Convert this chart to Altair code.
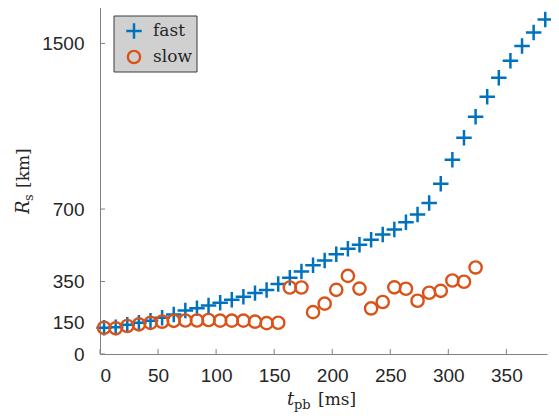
import altair as alt
import pandas as pd

# ---- data ----
t_fast = [3.5, 13.5, 23.5, 33.5, 43.5, 53.5, 63.5, 73.5, 83.5, 93.5,
          103.5, 113.5, 123.5, 133.5, 143.5, 153.5, 163.5, 173.5, 183.5, 193.5,
          203.5, 213.5, 223.5, 233.5, 243.5, 253.5, 263.5, 273.5, 283.5, 293.5,
          303.5, 313.5, 323.5, 333.5, 343.5, 353.5, 363.5, 373.5, 383.5]
r_fast = [127, 129, 141, 151, 161, 175, 191, 210, 221, 234,
          247, 262, 276, 294, 309, 338, 368, 398, 429, 452,
          482, 508, 528, 552, 577, 601, 636, 674, 729, 822,
          938, 1044, 1146, 1242, 1334, 1416, 1487, 1553, 1616]
t_slow = t_fast[:33]
r_slow = [127, 124, 135, 143, 150, 156, 160, 162, 162, 164,
          161, 161, 161, 156, 149, 151, 321, 321, 202, 243,
          310, 377, 316, 220, 251, 322, 315, 257, 296, 305,
          355, 349, 418]
x_ticks = [0, 50, 100, 150, 200, 250, 300, 350]
y_ticks = [0, 150, 350, 700, 1500]
series_names = ["fast", "slow"]
series_colors = ["#0072BD", "#D95319"]

W, H = 447, 352
AX = "#808080"
SERIF = "DejaVu Serif"
SANS = "Liberation Sans"
PLUS = "M-1,0L1,0M0,-1L0,1"

fast = pd.DataFrame({"tpb": t_fast, "Rs": r_fast})
slow = pd.DataFrame({"tpb": t_slow, "Rs": r_slow})
xt = pd.DataFrame({"tpb": x_ticks})
yt = pd.DataFrame({"Rs": y_ticks})
one = pd.DataFrame({"k": [0]})

xs = alt.Scale(domain=[0, 385], nice=False, zero=False)
ys = alt.Scale(domain=[0, 1700], nice=False, zero=False)

xaxis = alt.Axis(values=x_ticks, title=None, ticks=False, grid=False, format="d",
                 domainColor=AX, domainWidth=1, labelFont=SANS,
                 labelFontSize=19, labelColor="#262626", labelPadding=12)
yaxis = alt.Axis(values=y_ticks, title=None, ticks=False, grid=False, format="d",
                 domainColor=AX, domainWidth=1, labelFont=SANS,
                 labelFontSize=19, labelColor="#262626", labelPadding=16)

X = alt.X("tpb:Q", scale=xs, axis=xaxis)
Y = alt.Y("Rs:Q", scale=ys, axis=yaxis)

fast_l = alt.Chart(fast).mark_point(shape=PLUS, filled=False, size=240,
                                    strokeWidth=2.5, color=series_colors[0], opacity=1).encode(x=X, y=Y)
slow_l = alt.Chart(slow).mark_point(shape="circle", filled=False, size=150,
                                    strokeWidth=2.4, color=series_colors[1], opacity=1).encode(x=X, y=Y)

xtick_l = alt.Chart(xt).mark_rule(color=AX, strokeWidth=1).encode(
    x=X, y=alt.value(H), y2=alt.value(H - 5))
ytick_l = alt.Chart(yt).mark_rule(color=AX, strokeWidth=1).encode(
    y=Y, x=alt.value(0), x2=alt.value(5))

def txt(s, x, y, size=19, style="normal", angle=0):
    return alt.Chart(one).mark_text(text=s, font=SERIF, fontSize=size,
                                    fontStyle=style, align="left", baseline="alphabetic",
                                    angle=angle, color="#262626").encode(
        x=alt.value(x), y=alt.value(y))

# x title: t_pb [ms]
xt_t = txt("t", 187, 403, 18, "italic")
xt_pb = txt("pb", 194, 407, 13)
xt_ms = txt("[ms]", 218, 403, 17)
# y title: R_s [km] (rotated)
yt_R = txt("R", -71, 212, 18, "italic", angle=270)
yt_s = txt("s", -67, 199, 13, angle=270)
yt_km = txt("[km]", -71, 186, 17, angle=270)

# legend
leg_box = alt.Chart(one).mark_rect(fill="#d0d0d0", stroke="#3a3a3a", strokeWidth=1).encode(
    x=alt.value(14), x2=alt.value(97), y=alt.value(14), y2=alt.value(70))
leg_p1 = alt.Chart(one).mark_point(shape=PLUS, filled=False, size=240, strokeWidth=2.5,
                                   color=series_colors[0], opacity=1).encode(
    x=alt.value(34), y=alt.value(29))
leg_p2 = alt.Chart(one).mark_point(shape="circle", filled=False, size=150, strokeWidth=2.4,
                                   color=series_colors[1], opacity=1).encode(
    x=alt.value(34), y=alt.value(55))
leg_t1 = alt.Chart(one).mark_text(text=series_names[0], font=SERIF, fontSize=17,
                                  align="left", baseline="middle", color="#262626").encode(
    x=alt.value(53), y=alt.value(29))
leg_t2 = alt.Chart(one).mark_text(text=series_names[1], font=SERIF, fontSize=17,
                                  align="left", baseline="middle", color="#262626").encode(
    x=alt.value(53), y=alt.value(55))

chart = alt.layer(
    fast_l, slow_l, xtick_l, ytick_l,
    xt_t, xt_pb, xt_ms, yt_R, yt_s, yt_km,
    leg_box, leg_p1, leg_p2, leg_t1, leg_t2,
).properties(
    width=W, height=H,
    autosize=alt.AutoSizeParams(type="none"),
    padding={"left": 92, "top": -6, "right": 4, "bottom": 60},
).configure_view(stroke=None)

chart.save("out.html", embed_options={"renderer": "svg", "actions": False})
